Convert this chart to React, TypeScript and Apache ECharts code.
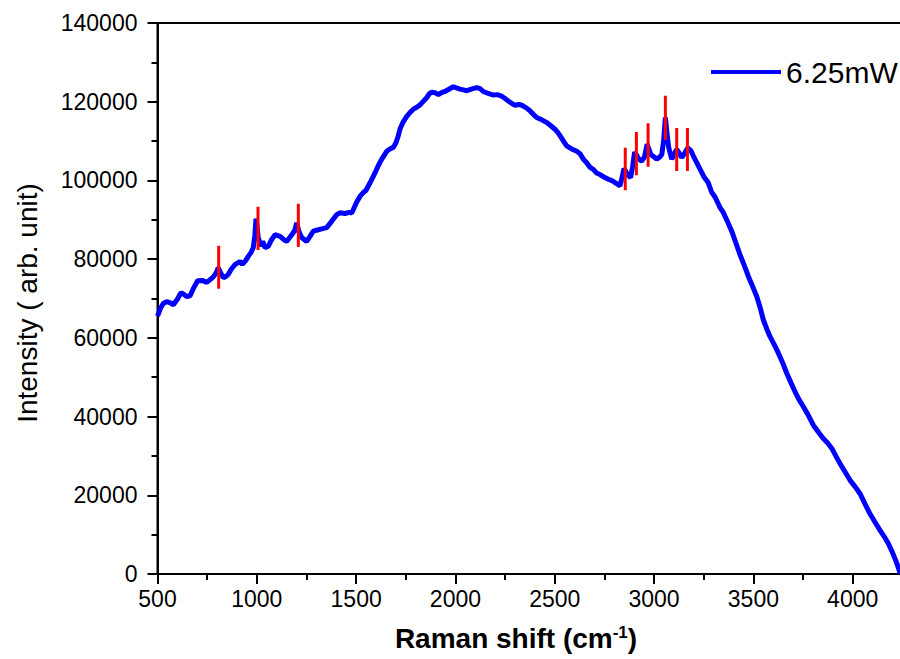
import React, { useEffect, useRef } from "react";
import * as echarts from "echarts";

const seriesName = "6.25mW";

const ramanShift: number[] = [
  500, 515, 530, 546, 565, 580, 600, 618, 635, 647, 664, 680, 702, 725, 748, 765, 781, 795, 806, 818,
  831, 845, 856, 872, 890, 915, 927, 942, 957, 972, 982, 990, 996, 1002, 1007, 1021, 1030, 1041, 1058, 1075,
  1092, 1117, 1135, 1150, 1176, 1190, 1201, 1212, 1226, 1251, 1268, 1284, 1305, 1327, 1352, 1377, 1402, 1420, 1444, 1465,
  1478, 1503, 1520, 1536, 1550, 1570, 1595, 1612, 1629, 1654, 1670, 1687, 1700, 1712, 1722, 1737, 1755, 1770, 1788, 1805,
  1822, 1840, 1855, 1870, 1881, 1897, 1914, 1930, 1947, 1965, 1989, 2005, 2023, 2040, 2057, 2080, 2107, 2125, 2140, 2165,
  2191, 2210, 2233, 2250, 2266, 2283, 2300, 2320, 2334, 2355, 2375, 2392, 2409, 2435, 2460, 2480, 2501, 2515, 2527, 2545,
  2560, 2585, 2611, 2627, 2644, 2661, 2678, 2694, 2710, 2728, 2750, 2770, 2790, 2804, 2818, 2828, 2838, 2848, 2856, 2866,
  2882, 2892, 2902, 2912, 2922, 2938, 2952, 2965, 2975, 2985, 3000, 3013, 3028, 3039, 3048, 3057, 3066, 3074, 3089, 3102,
  3114, 3126, 3139, 3155, 3170, 3185, 3198, 3215, 3232, 3250, 3273, 3290, 3307, 3330, 3349, 3370, 3391, 3412, 3433, 3455,
  3475, 3495, 3517, 3535, 3550, 3568, 3584, 3605, 3626, 3648, 3668, 3690, 3710, 3730, 3752, 3778, 3802, 3828, 3852, 3875,
  3895, 3915, 3936, 3962, 3987, 4012, 4037, 4062, 4087, 4112, 4138, 4160, 4180, 4198, 4213, 4225, 4240,
];

const intensity: number[] = [
  65500, 67500, 68800, 69200, 68900, 68400, 69800, 71500, 71000, 70500, 70700, 72500, 74500, 74600, 74100, 74800, 75500, 76500, 77800, 76500,
  75300, 75600, 76100, 77500, 78600, 79400, 78700, 79500, 80700, 81800, 82900, 86000, 90300, 88000, 85500, 83300, 84500, 82900, 83300, 85000,
  86200, 85800, 85000, 84500, 86200, 87200, 89200, 87000, 85500, 84500, 85800, 87100, 87400, 87700, 88000, 89600, 91300, 91800, 91600, 91900,
  91700, 94500, 96000, 96900, 97500, 99400, 101900, 103800, 105400, 107400, 108000, 108400, 109500, 111300, 113200, 114900, 116300, 117200, 118100, 118600,
  119200, 120200, 121000, 122100, 122400, 122300, 121800, 122300, 122600, 123100, 123800, 123500, 123200, 123000, 122800, 123200, 123600, 123300, 122600, 122100,
  121700, 121800, 121400, 120800, 120200, 119600, 119100, 119300, 119100, 118500, 117700, 116800, 116000, 115400, 114700, 113900, 113000, 112200, 111300, 109900,
  108800, 108000, 107400, 106800, 105400, 104500, 103300, 102800, 101900, 101500, 100800, 100300, 99900, 99400, 99000, 98600, 100500, 103000, 102500, 101500,
  100700, 103500, 107200, 106500, 105500, 104900, 106000, 109200, 107800, 106500, 106000, 105400, 105900, 106600, 110000, 116000, 111500, 108300, 105400, 106800,
  107900, 107000, 105800, 107000, 108300, 107600, 106200, 104500, 102800, 101000, 99400, 97000, 95800, 93300, 91800, 89500, 87100, 84100, 81100, 78300,
  75600, 73200, 70500, 67500, 64600, 62200, 60300, 58300, 56100, 53600, 51000, 48500, 46300, 44300, 42500, 40200, 37800, 36000, 34400, 33200,
  31900, 30000, 28100, 25900, 23800, 22200, 20400, 17800, 15300, 13200, 11100, 9400, 7700, 5700, 3900, 2300, 0,
];

// Red peak markers (position, bottom, top)
const peakX: number[] = [808, 1006, 1209, 2855, 2911, 2970, 3057, 3114, 3168];
const peakLow: number[] = [72500, 82300, 83100, 97500, 101300, 103500, 110300, 102400, 102400];
const peakHigh: number[] = [83400, 93300, 94100, 108300, 112300, 114500, 121500, 113300, 113300];

const FONT = "'Liberation Sans', Arial, Helvetica, sans-serif";

export default function App() {
  const ref = useRef<HTMLDivElement>(null);

  useEffect(() => {
    if (!ref.current) return;
    const chart = echarts.init(ref.current, undefined, { renderer: "svg" });

    const spectrum = ramanShift.map((x, i) => [x, intensity[i]]);
    const peaks: any[] = [];
    peakX.forEach((x, i) => {
      peaks.push([x, peakLow[i]]);
      peaks.push([x, peakHigh[i]]);
      peaks.push([x, "-"]);
    });

    chart.setOption({
      animation: false,
      backgroundColor: "#ffffff",
      textStyle: { fontFamily: FONT },
      grid: {
        left: 157.5,
        right: -52,
        top: 23,
        bottom: 85,
        show: true,
        borderColor: "#000",
        borderWidth: 2,
        backgroundColor: "transparent",
        containLabel: false,
        outerBoundsMode: "none",
      },
      legend: {
        data: [{ name: seriesName, icon: "rect" }],
        left: 706,
        top: 52,
        itemWidth: 70,
        itemHeight: 4,
        textStyle: { fontSize: 30, color: "#000", fontFamily: FONT },
      },
      xAxis: {
        type: "value",
        min: 500,
        max: 4500,
        interval: 500,
        axisLine: { show: true, lineStyle: { color: "#000", width: 2 } },
        axisTick: { show: true, inside: false, length: 10, lineStyle: { color: "#000", width: 2 } },
        minorTick: { show: true, splitNumber: 2, length: 6, lineStyle: { color: "#000", width: 2 } },
        splitLine: { show: false },
        minorSplitLine: { show: false },
        axisLabel: {
          fontSize: 23,
          color: "#000",
          margin: 13,
          fontFamily: FONT,
          formatter: (v: number) => (v > 4250 ? "" : String(v)),
        },
      },
      yAxis: {
        type: "value",
        min: 0,
        max: 140000,
        interval: 20000,
        axisLine: { show: true, lineStyle: { color: "#000", width: 2 } },
        axisTick: { show: true, inside: false, length: 10, lineStyle: { color: "#000", width: 2 } },
        minorTick: { show: true, splitNumber: 2, length: 6, lineStyle: { color: "#000", width: 2 } },
        splitLine: { show: false },
        minorSplitLine: { show: false },
        axisLabel: {
          fontSize: 23,
          color: "#000",
          margin: 20,
          fontFamily: FONT,
          formatter: (v: number) => String(v),
        },
      },
      graphic: [
        {
          type: "text",
          x: 27,
          y: 303,
          rotation: Math.PI / 2,
          style: {
            text: "Intensity ( arb. unit)",
            fontSize: 28,
            fontFamily: FONT,
            fill: "#000",
            align: "center",
            verticalAlign: "middle",
          },
        },
        {
          type: "text",
          x: 516,
          y: 638,
          style: {
            text: "{a|Raman shift (cm}{s|-1}{a|)}",
            align: "center",
            verticalAlign: "middle",
            rich: {
              a: { fontSize: 28, fontWeight: "bold", fontFamily: FONT, fill: "#000", color: "#000" },
              s: { fontSize: 17, fontWeight: "bold", fontFamily: FONT, fill: "#000", color: "#000", verticalAlign: "top" },
            },
          },
        },
      ],
      series: [
        {
          name: seriesName,
          type: "line",
          data: spectrum,
          symbol: "none",
          showSymbol: false,
          color: "#0000ff",
          lineStyle: { color: "#0000ff", width: 5 },
          z: 2,
        },
        {
          name: "peaks",
          type: "line",
          data: peaks,
          symbol: "none",
          showSymbol: false,
          connectNulls: false,
          color: "#ff0000",
          lineStyle: { color: "#ff0000", width: 3 },
          z: 3,
        },
      ],
    });

    return () => chart.dispose();
  }, []);

  return (
    <div
      ref={ref}
      style={{ position: "absolute", left: 0, top: 0, width: 900, height: 659 }}
    />
  );
}
